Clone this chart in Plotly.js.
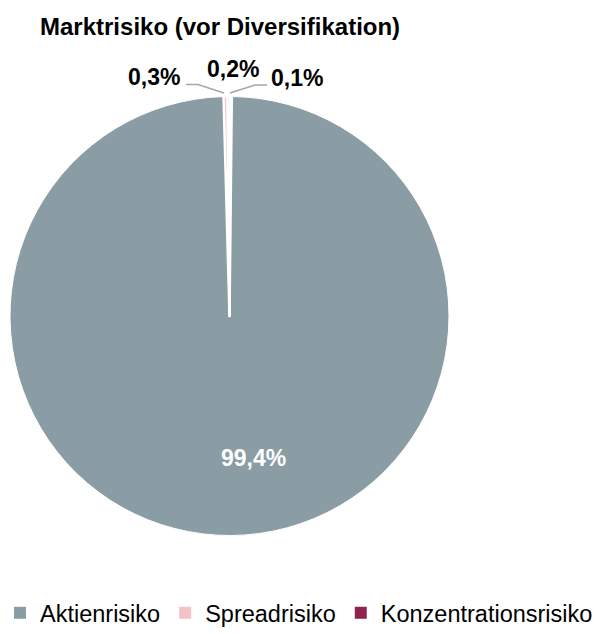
<!DOCTYPE html>
<html>
<head>
<meta charset="utf-8">
<script src="https://cdn.plot.ly/plotly-3.0.1.min.js"></script>
<style>html,body{margin:0;padding:0;background:#fff;overflow:hidden;}#chart{width:599px;height:634px;}</style>
</head>
<body>
<div id="chart"></div>
<script>
var categories = ['Aktienrisiko', 'Spreadrisiko', 'Konzentrationsrisiko', 'Währungsrisiko'];
var values = [99.4, 0.3, 0.2, 0.1];
var colors = ['#8A9DA5', '#F2C4C6', '#8E2350', '#C9D3D7'];
var legendCount = 3; // the reference legend shows the first three categories

var W = 599, H = 634;
var FONT = 'Liberation Sans, Arial, sans-serif';
function px(x) { return x / W; }
function py(y) { return 1 - y / H; }

var total = values.reduce(function (a, b) { return a + b; }, 0);
function fmt(v) { return (v / total * 100).toFixed(1).replace('.', ',') + '%'; }

// label placement (pixel positions of label centres) and leader lines
var labelPos = [
  {x: 253, y: 458, color: '#FFFFFF', line: null},
  {x: 154, y: 77, color: '#000000', line: [[186, 84.5], [198, 84.5], [224, 93]]},
  {x: 233, y: 69, color: '#000000', line: null},
  {x: 297, y: 78, color: '#000000', line: [[230, 93], [255, 85], [267, 85]]}
];

var annotations = values.map(function (v, i) {
  var p = labelPos[i];
  return {
    xref: 'paper', yref: 'paper', x: px(p.x), y: py(p.y),
    xanchor: 'center', yanchor: 'middle', showarrow: false,
    text: '<b>' + fmt(v) + '</b>',
    font: {family: FONT, size: 23, color: p.color}
  };
});

var shapes = [];
labelPos.forEach(function (p) {
  if (!p.line) return;
  var d = p.line.map(function (pt, k) { return (k ? 'L' : 'M') + px(pt[0]) + ',' + py(pt[1]); }).join(' ');
  shapes.push({type: 'path', xref: 'paper', yref: 'paper', path: d,
    line: {color: '#A6A6A6', width: 1.5}});
});

var pieTrace = {
  type: 'pie',
  labels: categories,
  values: values,
  sort: false,
  direction: 'clockwise',
  rotation: 0.6,
  marker: {colors: colors, line: {color: '#FFFFFF', width: [1, 2.5, 2.5, 2.5]}},
  textinfo: 'none',
  hoverinfo: 'label+percent',
  showlegend: false,
  domain: {x: [px(10), px(449)], y: [py(536), py(96)]}
};

// legend carrier: same categories/colours, drawn at (practically) zero size
var legendTrace = {
  type: 'pie',
  labels: categories.slice(0, legendCount),
  values: values.slice(0, legendCount),
  sort: false,
  marker: {colors: colors.slice(0, legendCount), line: {width: 0}},
  textinfo: 'none',
  hoverinfo: 'skip',
  showlegend: true,
  domain: {x: [0, 0.0001], y: [0, 0.0001]}
};

var layout = {
  width: W, height: H,
  margin: {l: 0, r: 0, t: 0, b: 0, autoexpand: false},
  paper_bgcolor: '#FFFFFF',
  separators: ',.',
  title: {
    text: '<b>Marktrisiko (vor Diversifikation)</b>',
    font: {family: FONT, size: 24, color: '#000000'},
    x: px(40), xanchor: 'left', xref: 'container',
    y: py(27), yanchor: 'middle', yref: 'container'
  },
  showlegend: true,
  legend: {
    orientation: 'h',
    x: -7 / W, xanchor: 'left', xref: 'container',
    y: py(591), yanchor: 'top', yref: 'container',
    font: {family: FONT, size: 23.5, color: '#000000'},
    traceorder: 'normal',
    bgcolor: 'rgba(0,0,0,0)'
  },
  annotations: annotations,
  shapes: shapes
};

Plotly.newPlot('chart', [pieTrace, legendTrace], layout, {displayModeBar: false, staticPlot: true});
</script>
</body>
</html>
